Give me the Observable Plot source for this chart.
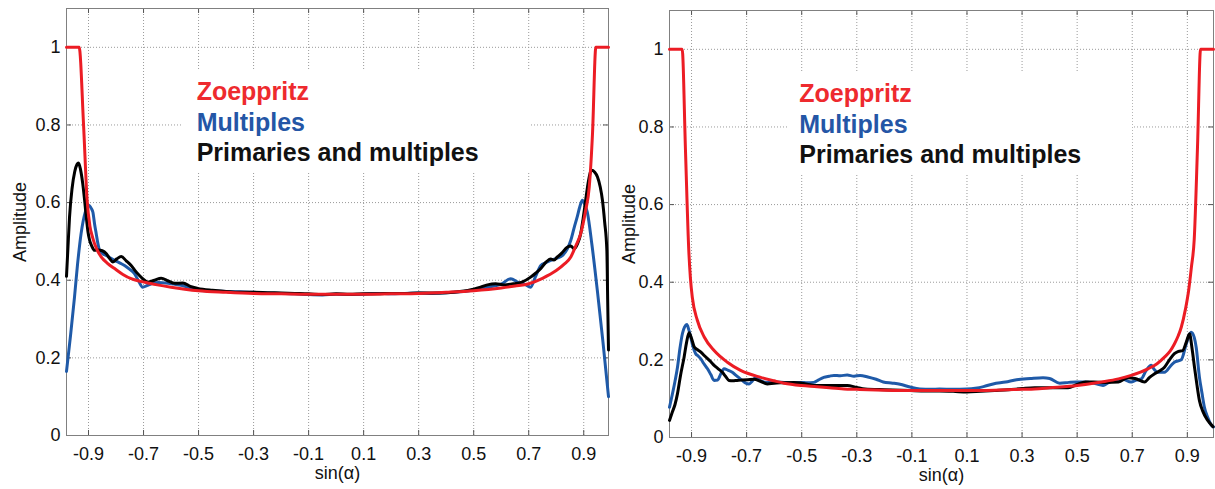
<!DOCTYPE html>
<html><head><meta charset="utf-8">
<script src="https://cdn.jsdelivr.net/npm/d3@7"></script>
<script src="https://cdn.jsdelivr.net/npm/@observablehq/plot@0.6"></script>
<style>
body{margin:0;background:#fff;}
#wrap{display:flex;width:1215px;height:489px;overflow:hidden;}
</style></head><body><div id="wrap"></div>
<script>
// ---- tick values / labels ----
const xTicks = [-0.9, -0.7, -0.5, -0.3, -0.1, 0.1, 0.3, 0.5, 0.7, 0.9];
const yTicks = [0, 0.2, 0.4, 0.6, 0.8, 1];
const legendLabels = ["Zoeppritz", "Multiples", "Primaries and multiples"];
const xLabel = "sin(α)";
const yLabel = "Amplitude";

// ---- left panel series [sin(alpha), amplitude] ----
const leftZoeppritz = [[-0.98,1],[-0.934,1],[-0.918,0.8],[-0.905,0.606],[-0.895,0.54],[-0.885,0.51],[-0.87,0.48],[-0.854,0.46],[-0.83,0.443],[-0.805,0.43],[-0.775,0.415],[-0.745,0.404],[-0.71,0.397],[-0.684,0.393],[-0.65,0.388],[-0.6,0.382],[-0.55,0.377],[-0.5,0.373],[-0.4,0.369],[-0.3,0.366],[-0.2,0.365],[-0.1,0.364],[0,0.364],[0.1,0.364],[0.2,0.365],[0.3,0.366],[0.4,0.369],[0.5,0.373],[0.6,0.38],[0.65,0.385],[0.7,0.391],[0.75,0.405],[0.8,0.425],[0.83,0.442],[0.853,0.46],[0.872,0.49],[0.889,0.52],[0.907,0.58],[0.92,0.64],[0.932,0.78],[0.944,1],[0.99,1]];
const leftMultiples = [[-0.98,0.165],[-0.965,0.26],[-0.951,0.356],[-0.94,0.44],[-0.927,0.52],[-0.912,0.575],[-0.9,0.593],[-0.89,0.585],[-0.884,0.575],[-0.878,0.545],[-0.872,0.52],[-0.866,0.495],[-0.86,0.477],[-0.848,0.468],[-0.836,0.464],[-0.82,0.457],[-0.805,0.451],[-0.785,0.444],[-0.769,0.438],[-0.75,0.428],[-0.733,0.417],[-0.718,0.398],[-0.703,0.382],[-0.688,0.386],[-0.672,0.391],[-0.645,0.394],[-0.62,0.393],[-0.59,0.39],[-0.563,0.387],[-0.53,0.38],[-0.503,0.374],[-0.45,0.372],[-0.4,0.371],[-0.35,0.37],[-0.3,0.369],[-0.25,0.367],[-0.2,0.366],[-0.15,0.365],[-0.1,0.363],[-0.05,0.362],[0,0.364],[0.05,0.363],[0.1,0.364],[0.15,0.366],[0.2,0.365],[0.25,0.366],[0.3,0.367],[0.35,0.366],[0.4,0.368],[0.45,0.37],[0.5,0.375],[0.55,0.382],[0.6,0.39],[0.635,0.404],[0.66,0.395],[0.685,0.39],[0.707,0.382],[0.725,0.41],[0.744,0.438],[0.762,0.445],[0.78,0.451],[0.8,0.456],[0.823,0.464],[0.84,0.48],[0.853,0.503],[0.865,0.535],[0.876,0.5625],[0.886,0.59],[0.895,0.606],[0.904,0.595],[0.913,0.575],[0.93,0.49],[0.95,0.37],[0.97,0.24],[0.99,0.1]];
const leftPrimMult = [[-0.98,0.41],[-0.975,0.48],[-0.969,0.5625],[-0.96,0.635],[-0.95,0.68],[-0.942,0.698],[-0.936,0.702],[-0.929,0.685],[-0.921,0.649],[-0.914,0.605],[-0.908,0.5625],[-0.902,0.525],[-0.896,0.503],[-0.888,0.488],[-0.878,0.477],[-0.865,0.478],[-0.85,0.476],[-0.835,0.468],[-0.822,0.455],[-0.812,0.447],[-0.797,0.455],[-0.781,0.461],[-0.763,0.45],[-0.745,0.438],[-0.73,0.424],[-0.715,0.412],[-0.7,0.402],[-0.684,0.395],[-0.66,0.4],[-0.636,0.405],[-0.61,0.398],[-0.587,0.392],[-0.557,0.393],[-0.53,0.384],[-0.503,0.379],[-0.45,0.374],[-0.4,0.371],[-0.35,0.369],[-0.3,0.369],[-0.25,0.368],[-0.2,0.367],[-0.15,0.366],[-0.1,0.365],[-0.05,0.363],[0,0.365],[0.05,0.364],[0.1,0.365],[0.15,0.365],[0.2,0.366],[0.25,0.366],[0.3,0.367],[0.35,0.367],[0.4,0.368],[0.45,0.371],[0.5,0.377],[0.525,0.382],[0.55,0.388],[0.58,0.391],[0.61,0.388],[0.647,0.391],[0.675,0.395],[0.707,0.408],[0.725,0.418],[0.744,0.43],[0.762,0.446],[0.78,0.455],[0.792,0.452],[0.804,0.46],[0.82,0.47],[0.84,0.485],[0.853,0.488],[0.865,0.481],[0.878,0.495],[0.889,0.52],[0.898,0.56],[0.907,0.606],[0.917,0.655],[0.928,0.683],[0.94,0.678],[0.95,0.666],[0.96,0.64],[0.968,0.606],[0.976,0.55],[0.984,0.477],[0.987,0.35],[0.99,0.22]];

// ---- right panel series ----
const rightZoeppritz = [[-0.98,1],[-0.934,1],[-0.922,0.74],[-0.91,0.482],[-0.904,0.41],[-0.897,0.36],[-0.879,0.302],[-0.854,0.259],[-0.818,0.224],[-0.77,0.194],[-0.722,0.173],[-0.649,0.155],[-0.6,0.146],[-0.564,0.14],[-0.5,0.134],[-0.444,0.131],[-0.4,0.128],[-0.347,0.125],[-0.3,0.124],[-0.2,0.122],[-0.1,0.121],[0,0.121],[0.1,0.121],[0.2,0.122],[0.3,0.124],[0.346,0.125],[0.4,0.128],[0.5,0.134],[0.588,0.143],[0.65,0.151],[0.696,0.16],[0.757,0.177],[0.79,0.19],[0.817,0.207],[0.838,0.223],[0.853,0.241],[0.867,0.262],[0.878,0.284],[0.893,0.33],[0.905,0.38],[0.915,0.44],[0.925,0.51],[0.937,0.75],[0.948,1],[0.995,1]];
const rightMultiples = [[-0.98,0.078],[-0.97,0.11],[-0.96,0.145],[-0.951,0.181],[-0.942,0.23],[-0.933,0.268],[-0.925,0.285],[-0.917,0.291],[-0.91,0.278],[-0.903,0.259],[-0.895,0.235],[-0.885,0.216],[-0.876,0.21],[-0.867,0.203],[-0.855,0.19],[-0.842,0.177],[-0.83,0.162],[-0.818,0.147],[-0.805,0.148],[-0.795,0.162],[-0.782,0.177],[-0.767,0.173],[-0.752,0.168],[-0.735,0.158],[-0.716,0.147],[-0.703,0.14],[-0.691,0.138],[-0.679,0.146],[-0.667,0.154],[-0.648,0.146],[-0.625,0.142],[-0.595,0.143],[-0.564,0.142],[-0.535,0.141],[-0.504,0.142],[-0.48,0.141],[-0.456,0.142],[-0.44,0.148],[-0.42,0.155],[-0.4,0.158],[-0.383,0.16],[-0.36,0.159],[-0.335,0.161],[-0.31,0.158],[-0.288,0.16],[-0.26,0.156],[-0.23,0.15],[-0.204,0.143],[-0.17,0.14],[-0.143,0.137],[-0.107,0.13],[-0.071,0.125],[-0.03,0.124],[0,0.125],[0.05,0.124],[0.099,0.125],[0.13,0.127],[0.16,0.131],[0.195,0.138],[0.24,0.143],[0.28,0.149],[0.33,0.152],[0.376,0.154],[0.4,0.152],[0.437,0.14],[0.47,0.142],[0.497,0.143],[0.53,0.143],[0.565,0.139],[0.594,0.134],[0.615,0.142],[0.642,0.147],[0.665,0.15],[0.696,0.143],[0.715,0.148],[0.733,0.151],[0.75,0.172],[0.769,0.186],[0.78,0.175],[0.793,0.168],[0.817,0.168],[0.84,0.185],[0.853,0.194],[0.878,0.2],[0.896,0.241],[0.906,0.262],[0.914,0.271],[0.925,0.258],[0.932,0.233],[0.944,0.155],[0.953,0.115],[0.962,0.078],[0.975,0.05],[0.986,0.033],[0.995,0.027]];
const rightPrimMult = [[-0.98,0.044],[-0.97,0.065],[-0.96,0.085],[-0.951,0.113],[-0.94,0.16],[-0.927,0.207],[-0.918,0.245],[-0.909,0.27],[-0.9,0.255],[-0.89,0.233],[-0.878,0.226],[-0.866,0.22],[-0.855,0.212],[-0.842,0.203],[-0.83,0.195],[-0.818,0.186],[-0.803,0.177],[-0.788,0.168],[-0.776,0.157],[-0.764,0.147],[-0.75,0.146],[-0.735,0.147],[-0.716,0.148],[-0.695,0.149],[-0.673,0.15],[-0.65,0.145],[-0.625,0.138],[-0.6,0.14],[-0.57,0.141],[-0.528,0.142],[-0.5,0.14],[-0.47,0.136],[-0.444,0.134],[-0.4,0.134],[-0.335,0.134],[-0.3,0.129],[-0.27,0.125],[-0.2,0.123],[-0.107,0.121],[-0.05,0.12],[0,0.12],[0.05,0.119],[0.1,0.117],[0.15,0.119],[0.2,0.121],[0.25,0.123],[0.3,0.126],[0.346,0.128],[0.4,0.128],[0.467,0.128],[0.5,0.137],[0.53,0.143],[0.56,0.143],[0.6,0.142],[0.65,0.143],[0.684,0.154],[0.71,0.152],[0.745,0.143],[0.763,0.155],[0.781,0.164],[0.8,0.172],[0.817,0.181],[0.835,0.2],[0.853,0.216],[0.868,0.222],[0.883,0.224],[0.896,0.245],[0.908,0.267],[0.917,0.23],[0.926,0.181],[0.935,0.135],[0.944,0.095],[0.956,0.068],[0.974,0.044],[0.993,0.028]];

const COLORS = {red: "#ec1c24", blue: "#1f5aa8", black: "#000000"};
const TEXTCOLORS = ["#ee2a2e", "#2456a6", "#111111"];

function panel(cfg) {
  const H = 489;
  const fw = cfg.width - cfg.marginLeft - cfg.marginRight;
  const fh = H - cfg.marginTop - cfg.marginBottom;
  const seriesList = [
    {data: cfg.multiples, stroke: COLORS.blue},
    {data: cfg.primMult, stroke: COLORS.black},
    {data: cfg.zoeppritz, stroke: COLORS.red}
  ];
  const fmt = d => String(d);
  const tickStyle = {stroke: "#555", strokeWidth: 1};
  return Plot.plot({
    width: cfg.width, height: H,
    marginLeft: cfg.marginLeft, marginRight: cfg.marginRight,
    marginTop: cfg.marginTop, marginBottom: cfg.marginBottom,
    style: {fontFamily: "'Liberation Sans', Arial, Helvetica, sans-serif", fontSize: "18px", background: "white", color: "#111"},
    x: {domain: cfg.xDomain},
    y: {domain: [0, 1.1]},
    marks: [
      Plot.gridX(xTicks, {stroke: "#9a9a9a", strokeOpacity: 1, strokeDasharray: "1,2"}),
      Plot.gridY(yTicks, {stroke: "#9a9a9a", strokeOpacity: 1, strokeDasharray: "1,2"}),
      Plot.rect([cfg.box], {x1: d => d.x1, x2: d => d.x2, y1: d => d.y1, y2: d => d.y2, fill: "white"}),
      Plot.tickX(xTicks, {x: d => d, insetTop: fh - 5, ...tickStyle}),
      Plot.tickX(xTicks, {x: d => d, insetBottom: fh - 5, ...tickStyle}),
      Plot.tickY(yTicks, {y: d => d, insetRight: fw - 5, ...tickStyle}),
      Plot.tickY(yTicks, {y: d => d, insetLeft: fw - 5, ...tickStyle}),
      Plot.frame({stroke: "#808080", strokeWidth: 1}),
      Plot.axisX(xTicks, {tickSize: 0, tickPadding: 12, tickFormat: fmt, fontSize: 18, label: xLabel, labelAnchor: "center", labelOffset: 43, labelArrow: "none"}),
      Plot.axisY(yTicks, {tickSize: 0, tickPadding: 6, tickFormat: fmt, fontSize: 18, label: yLabel, labelAnchor: "center", labelOffset: cfg.yLabelOffset, labelArrow: "none"}),
      ...seriesList.map(s => Plot.line(s.data, {x: d => d[0], y: d => d[1], stroke: s.stroke, strokeWidth: 3, curve: "monotone-x"})),
      ...legendLabels.map((lab, i) => Plot.text([lab], {x: () => cfg.legendX, y: () => cfg.legendY[i], text: d => d, fill: TEXTCOLORS[i], fontSize: 25, fontWeight: "bold", textAnchor: "start", lineAnchor: "bottom"}))
    ]
  });
}

const wrap = document.getElementById("wrap");
wrap.appendChild(panel({
  width: 610, marginLeft: 66, marginRight: 2, marginTop: 8, marginBottom: 54,
  xDomain: [-0.98, 0.99],
  zoeppritz: leftZoeppritz, multiples: leftMultiples, primMult: leftPrimMult,
  box: {x1: -0.555, x2: 0.707, y1: 0.675, y2: 0.941},
  legendX: -0.507, legendY: [0.863, 0.784, 0.706],
  yLabelOffset: 53
}));
wrap.appendChild(panel({
  width: 605, marginLeft: 59, marginRight: 2, marginTop: 10, marginBottom: 52,
  xDomain: [-0.98, 0.995],
  zoeppritz: rightZoeppritz, multiples: rightMultiples, primMult: rightPrimMult,
  box: {x1: -0.549, x2: 0.701, y1: 0.675, y2: 0.941},
  legendX: -0.509, legendY: [0.863, 0.784, 0.706],
  yLabelOffset: 47
}));
</script></body></html>
